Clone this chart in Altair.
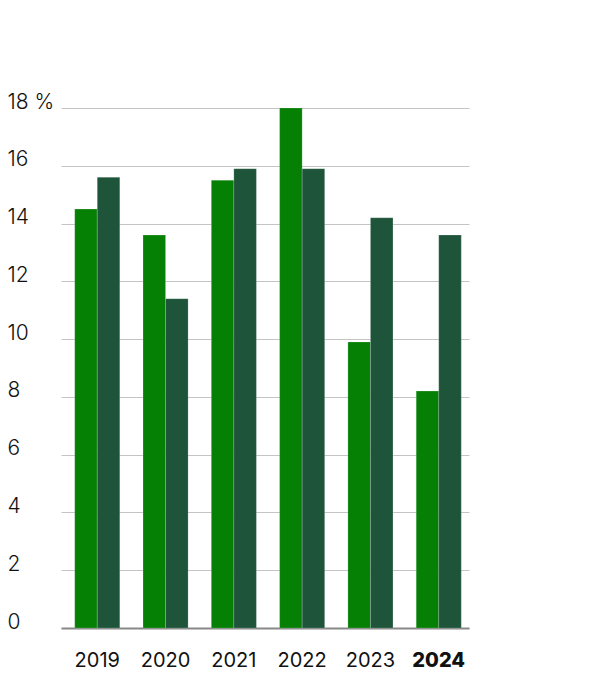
import altair as alt
import pandas as pd

years = ["2019", "2020", "2021", "2022", "2023", "2024"]
series_a = [14.5, 13.6, 15.5, 18.0, 9.9, 8.2]
series_b = [15.6, 11.4, 15.9, 15.9, 14.2, 13.6]
series_names = ["A", "B"]
colors = ["#058005", "#1e553a"]
y_ticks = [0, 2, 4, 6, 8, 10, 12, 14, 16, 18]

rows = []
for y, a, b in zip(years, series_a, series_b):
    rows.append({"year": y, "series": series_names[0], "value": a})
    rows.append({"year": y, "series": series_names[1], "value": b})
df = pd.DataFrame(rows)

FONT = "Inter"

chart = alt.Chart(df).mark_bar(stroke="#ffffff", strokeOpacity=0.25, strokeWidth=0.7).encode(
    x=alt.X(
        "year:N",
        sort=years,
        title=None,
        scale=alt.Scale(paddingInner=0.34, paddingOuter=0.157, align=0.64),
        axis=alt.Axis(
            labelAngle=0,
            labelFont=FONT,
            labelFontSize=20,
            labelColor="#111111",
            labelFontWeight=alt.condition("datum.value == '2024'", alt.value(800), alt.value(400)),
            labelBaseline="alphabetic",
            labelPadding=38,
            ticks=False,
            tickSize=0,
            domain=True,
            domainColor="#888888",
            domainWidth=2,
            grid=False,
        ),
    ),
    xOffset=alt.XOffset("series:N", sort=series_names),
    y=alt.Y(
        "value:Q",
        title=None,
        scale=alt.Scale(domain=[0, 18], nice=False),
        axis=alt.Axis(
            values=y_ticks,
            labelExpr="datum.value == 18 ? datum.value + ' %' : datum.value",
            labelFont=FONT,
            labelFontSize=21,
            labelFontWeight=300,
            labelColor="#111111",
            labelAlign="left",
            labelBaseline="alphabetic",
            labelPadding=54,
            ticks=False,
            tickSize=0,
            domain=False,
            grid=True,
            gridColor="#c4c4c4",
            gridWidth=1,
        ),
    ),
    color=alt.Color(
        "series:N",
        sort=series_names,
        scale=alt.Scale(domain=series_names, range=colors),
        legend=None,
    ),
).properties(
    width=408,
    height=520,
    autosize=alt.AutoSizeParams(type="none"),
    padding={"left": 53, "top": 100, "right": 30, "bottom": 50},
).configure_view(stroke=None)

chart.save("out.html", embed_options={"renderer": "svg", "actions": False})
